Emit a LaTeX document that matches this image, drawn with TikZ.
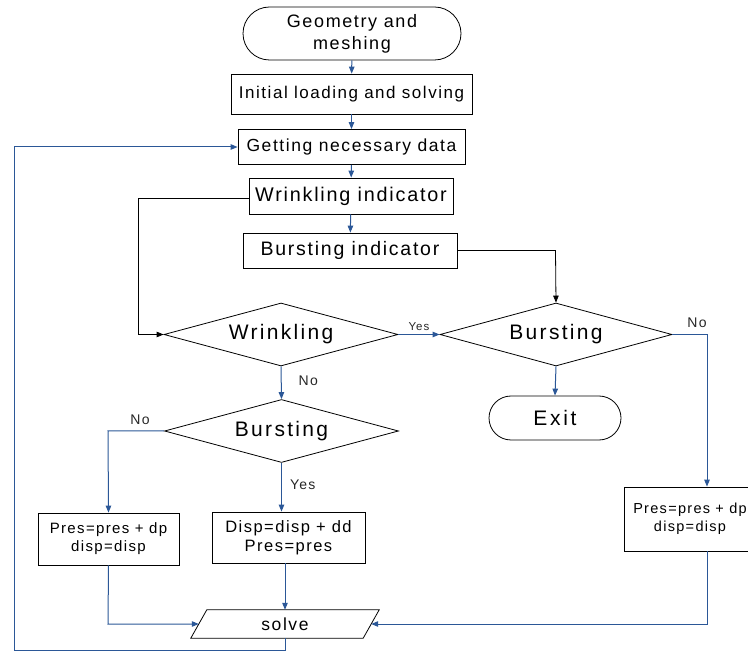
\documentclass[tikz,border=0pt]{standalone}
\usepackage{fontspec}
\setmainfont{Liberation Sans}[LetterSpace=9]
\usetikzlibrary{shapes.geometric,shapes.misc,arrows.meta}
\definecolor{cblue}{RGB}{43,87,151}
\begin{document}
\begin{tikzpicture}[x=1pt,y=-1pt,
  box/.style={draw, line width=0.8pt, inner sep=0pt, align=center},
  term/.style={draw, line width=0.8pt, rounded rectangle, inner sep=0pt, align=center},
  dec/.style={draw, line width=0.8pt, diamond, aspect=3.7, inner sep=0pt, minimum width=234, minimum height=63, font=\fontsize{21}{24}\selectfont\addfontfeatures{LetterSpace=11}},
  conn/.style={cblue, line width=1pt, -{Triangle[length=7pt,width=5.5pt]}},
  bconn/.style={black, line width=0.8pt, -{Triangle[length=7pt,width=5.5pt]}},
  lbl/.style={text=black!85, font=\fontsize{14}{16}\selectfont, inner sep=0pt}]
\useasboundingbox (0,0) rectangle (748,652);

\node[term, minimum width=218, minimum height=53, font=\fontsize{18}{22}\selectfont] (geo) at (352,33.5) {Geometry and\\meshing};
\node[box, minimum width=241, minimum height=40, font=\fontsize{17}{20}\selectfont] (init) at (351.5,94) {Initial loading and solving};
\node[box, minimum width=227, minimum height=35, font=\fontsize{17.5}{20}\selectfont] (get) at (351.5,147) {Getting necessary data};
\node[box, minimum width=204, minimum height=36, font=\fontsize{19.8}{24}\selectfont] (wind) at (351,196) {Wrinkling indicator};
\node[box, minimum width=214, minimum height=35, font=\fontsize{19.5}{24}\selectfont] (bind) at (350,250.5) {Bursting indicator};

\node[dec] (wr) at (281,334.5) {Wrinkling};
\node[dec, minimum width=232] (br) at (556,334.5) {Bursting};
\node[term, minimum width=132, minimum height=44, font=\fontsize{21}{24}\selectfont\addfontfeatures{LetterSpace=13}] (exit) at (555,418) {Exit};
\node[dec] (bl) at (281.5,431) {Bursting};

\node[box, minimum width=141, minimum height=52, font=\fontsize{15}{18}\selectfont] (pl) at (108.5,539) {Pres=pres + dp\\disp=disp};
\node[box, minimum width=153, minimum height=51, font=\fontsize{16.5}{19}\selectfont] (dd) at (288.5,537.5) {Disp=disp + dd\\Pres=pres};
\node[draw, line width=0.8pt, minimum width=166, minimum height=64, inner sep=0pt] (pr) at (707,519) {};
\node[font=\fontsize{14.5}{18}\selectfont, align=center, inner sep=0pt] (prt) at (690,519) {Pres=pres + dp\\disp=disp};

\node[minimum width=172, minimum height=28, inner sep=0pt, font=\fontsize{17.5}{20}\selectfont] (solve) at (285,624) {solve};
\draw[line width=0.8pt] ([xshift=-8]solve.south west) -- ([xshift=8]solve.north west) -- ([xshift=8]solve.north east) -- ([xshift=-8]solve.south east) -- cycle;

\coordinate (c1) at (138,198);
\coordinate (c2) at (138,334.5);
\coordinate (c3) at (555.5,250.5);
\coordinate (c4) at (707,334.5);
\coordinate (c5) at (108,431);
\coordinate (c6) at (108,624);
\coordinate (c7) at (707,624);
\coordinate (c8) at (285,650);
\coordinate (c9) at (14,650);
\coordinate (c10) at (14,147);

\draw[conn] (geo) -- (init);
\draw[conn] (init) -- (get);
\draw[conn] (get) -- (wind);
\draw[conn] (wind) -- (bind);
\draw[bconn] (wind.west |- c1) -- (c1) -- (c2) -- (wr.west);
\draw[bconn] (bind.east) -- (c3) -- (br.north);
\draw[conn] (wr.east) -- node[lbl, above=3pt, font=\fontsize{11.5}{14}\selectfont] {Yes} (br.west);
\draw[conn] (br.south) -- (exit.north);
\draw[conn] (br.east) -- (c4) -- (pr.north);
\node[lbl] (nor) at (697,323) {No};
\draw[conn] (wr.south) -- node[lbl, right=17pt, pos=0.45] {No} (bl.north);
\draw[conn] (bl.west) -- (c5) -- (pl.north);
\node[lbl] (nol) at (140,420) {No};
\draw[conn] (bl.south) -- node[lbl, right=8pt, pos=0.45] {Yes} (bl.south |- dd.north);
\draw[conn] (pl.south) -- (c6) -- (solve.west);
\draw[conn] (solve.north |- dd.south) -- (solve.north);
\draw[conn] (pr.south) -- (c7) -- (solve.east);
\draw[conn] (solve.south) -- (c8) -- (c9) -- (c10) -- (get.west);
\end{tikzpicture}
\end{document}
